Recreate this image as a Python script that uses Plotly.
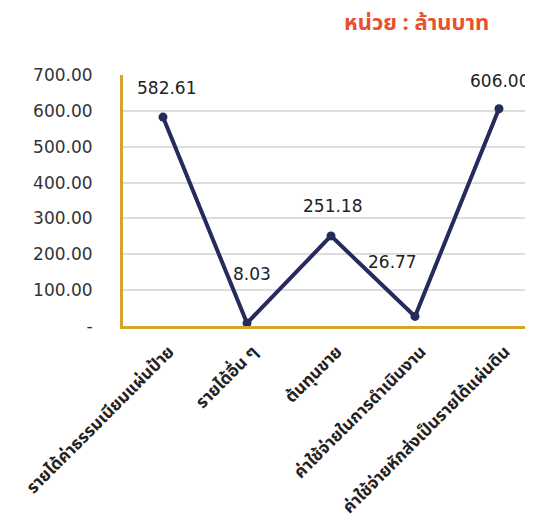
import plotly.graph_objects as go

categories = ["รายได้ค่าธรรมเนียมแผ่นป้าย", "รายได้อื่น ๆ", "ต้นทุนขาย",
              "ค่าใช้จ่ายในการดำเนินงาน", "ค่าใช้จ่ายหักส่งเป็นรายได้แผ่นดิน"]
values = [582.61, 8.03, 251.18, 26.77, 606.00]
value_labels = ["582.61", "8.03", "251.18", "26.77", "606.00"]
y_tick_vals = [0, 100, 200, 300, 400, 500, 600, 700]
y_tick_text = ["-", "100.00", "200.00", "300.00", "400.00", "500.00", "600.00", "700.00"]
unit_title = "หน่วย : ล้านบาท"

# label offsets (pixels) relative to each point
label_dx = [4, 5, 2, -22, 1]
label_dy = [29, 49, 30, 54, 28]

LINE = "#262A5C"
GOLD = "#D4A52A"
NUMFONT = "DejaVu Sans, Verdana, sans-serif"
THAIFONT = "Tahoma, 'Noto Sans Thai', 'Noto Sans', 'Loma', sans-serif"

fig = go.Figure()
fig.add_trace(go.Scatter(
    x=list(range(len(categories))), y=values, mode="lines+markers",
    line=dict(color=LINE, width=4), marker=dict(color=LINE, size=9),
    hoverinfo="skip", showlegend=False, cliponaxis=False,
))

for i, (v, t) in enumerate(zip(values, value_labels)):
    fig.add_annotation(x=i, y=v, text=t, showarrow=False,
                       xshift=label_dx[i], yshift=label_dy[i],
                       font=dict(family=NUMFONT, size=17, color="#222222"))

fig.add_annotation(xref="paper", yref="paper", x=0.715, y=1.0, yshift=52,
                   xanchor="center", yanchor="middle", showarrow=False,
                   text="<b>" + unit_title + "</b>",
                   font=dict(family=THAIFONT, size=22, color="#E8502E"))

fig.update_layout(
    width=525, height=516,
    margin=dict(l=115, r=0, t=67, b=198),
    paper_bgcolor="white", plot_bgcolor="white",
    xaxis=dict(
        range=[-0.476, 4.405], tickmode="array",
        tickvals=list(range(len(categories))),
        ticktext=["<b>" + c + "</b>" for c in categories],
        tickangle=-45, showgrid=False, zeroline=False,
        showline=True, linecolor=GOLD, linewidth=3,
        ticks="", ticklabelstandoff=6, ticklabelshift=6,
        ticklabeloverflow="allow", automargin=False,
        tickfont=dict(family=THAIFONT, size=17, color="#222222"),
    ),
    yaxis=dict(
        range=[0, 700], tickmode="array", tickvals=y_tick_vals, ticktext=y_tick_text,
        showgrid=True, gridcolor="#DDDDDD", gridwidth=1.5, zeroline=False,
        showline=True, linecolor=GOLD, linewidth=3, ticks="", automargin=False,
        ticklabelstandoff=24,
        tickfont=dict(family=NUMFONT, size=17, color="#333333"),
    ),
)

fig.write_html("out.html")
